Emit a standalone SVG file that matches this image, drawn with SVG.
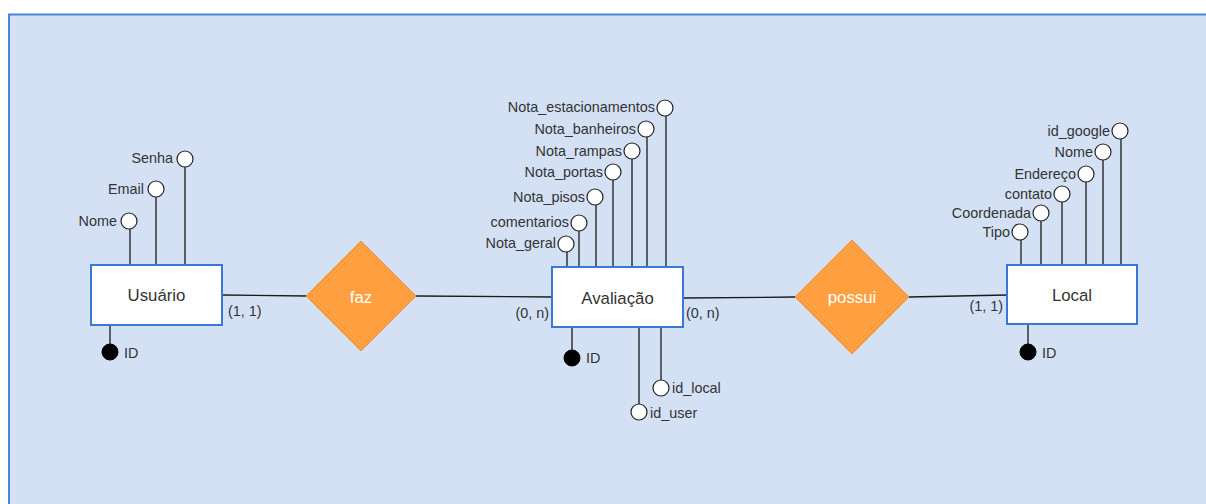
<svg xmlns="http://www.w3.org/2000/svg" width="1206" height="504" viewBox="0 0 1206 504">
<style>
.ent{fill:#fff;stroke:#3a78d8;stroke-width:2}
.rel{fill:#ff9f40;stroke:#f2922e;stroke-width:1}
.ln{stroke:#1a1a1a;stroke-width:1.3;fill:none}
.att{fill:#fff;stroke:#222;stroke-width:1.2}
.key{fill:#000;stroke:#000;stroke-width:1}
text{font-family:"Liberation Sans",Arial,sans-serif;fill:#333}
.lbl{font-size:14.4px;text-anchor:end;dominant-baseline:central}
.lbr{font-size:14.4px;text-anchor:start;dominant-baseline:central}
.en{font-size:16.8px;text-anchor:middle;dominant-baseline:central}
.rt{font-size:16.8px;text-anchor:middle;dominant-baseline:central;fill:#fff}
</style>
<rect x="9" y="14.5" width="1210" height="500" fill="#d4e1f5" stroke="#4a86d8" stroke-width="2"/>
<g id="connectors">
<line class="ln" x1="222" y1="295" x2="307" y2="296"/>
<line class="ln" x1="416" y1="296" x2="552" y2="297"/>
<line class="ln" x1="683" y1="298" x2="795" y2="297"/>
<line class="ln" x1="909" y1="297" x2="1007" y2="295"/>
<line class="ln" x1="130" y1="229" x2="130" y2="265"/>
<line class="ln" x1="156" y1="197" x2="156" y2="265"/>
<line class="ln" x1="185" y1="167" x2="185" y2="265"/>
<line class="ln" x1="110" y1="325" x2="110" y2="345"/>
<line class="ln" x1="666" y1="116" x2="666" y2="267"/>
<line class="ln" x1="647" y1="137" x2="647" y2="267"/>
<line class="ln" x1="632" y1="159" x2="632" y2="267"/>
<line class="ln" x1="613" y1="180" x2="613" y2="267"/>
<line class="ln" x1="596" y1="205" x2="596" y2="267"/>
<line class="ln" x1="579" y1="231" x2="579" y2="267"/>
<line class="ln" x1="567" y1="252" x2="567" y2="267"/>
<line class="ln" x1="572" y1="327" x2="572" y2="351"/>
<line class="ln" x1="661" y1="327" x2="661" y2="380"/>
<line class="ln" x1="639" y1="327" x2="639" y2="404"/>
<line class="ln" x1="1121" y1="139" x2="1121" y2="265"/>
<line class="ln" x1="1103" y1="160" x2="1103" y2="265"/>
<line class="ln" x1="1086" y1="182" x2="1086" y2="265"/>
<line class="ln" x1="1062" y1="202" x2="1062" y2="265"/>
<line class="ln" x1="1041" y1="221" x2="1041" y2="265"/>
<line class="ln" x1="1021" y1="240" x2="1021" y2="265"/>
<line class="ln" x1="1028" y1="324" x2="1028" y2="345"/>
<text class="lbr" x="228" y="311">(1, 1)</text>
<text class="lbl" x="549" y="313">(0, n)</text>
<text class="lbr" x="686" y="313">(0, n)</text>
<text class="lbl" x="1003" y="306">(1, 1)</text>
</g>
<g id="usuario">
<rect class="ent" x="91" y="265" width="131" height="60"/>
<text class="en" x="156.5" y="295">Usuário</text>
</g>
<g id="usuario-nome"><circle class="att" cx="129" cy="221" r="8"/><text class="lbl" x="117" y="221">Nome</text></g>
<g id="usuario-email"><circle class="att" cx="156" cy="189" r="8"/><text class="lbl" x="144" y="189">Email</text></g>
<g id="usuario-senha"><circle class="att" cx="185" cy="159" r="8"/><text class="lbl" x="173" y="158">Senha</text></g>
<g id="usuario-id"><circle class="key" cx="110" cy="352" r="8"/><text class="lbr" x="124" y="353">ID</text></g>
<g id="faz">
<polygon class="rel" points="361,241 416,296 361,351 306,296"/>
<text class="rt" x="361" y="297">faz</text>
</g>
<g id="avaliacao">
<rect class="ent" x="552" y="267" width="131" height="60"/>
<text class="en" x="617.5" y="298">Avaliação</text>
</g>
<g id="av-estac"><circle class="att" cx="665" cy="108" r="8"/><text class="lbl" x="655" y="107">Nota_estacionamentos</text></g>
<g id="av-banh"><circle class="att" cx="646" cy="129" r="8"/><text class="lbl" x="636" y="129">Nota_banheiros</text></g>
<g id="av-ramp"><circle class="att" cx="632" cy="151" r="8"/><text class="lbl" x="622" y="151">Nota_rampas</text></g>
<g id="av-port"><circle class="att" cx="613" cy="172" r="8"/><text class="lbl" x="603" y="172">Nota_portas</text></g>
<g id="av-pisos"><circle class="att" cx="595" cy="197" r="8"/><text class="lbl" x="585" y="197">Nota_pisos</text></g>
<g id="av-coment"><circle class="att" cx="579" cy="223" r="8"/><text class="lbl" x="569" y="222">comentarios</text></g>
<g id="av-geral"><circle class="att" cx="566" cy="244" r="8"/><text class="lbl" x="556" y="243">Nota_geral</text></g>
<g id="av-id"><circle class="key" cx="572" cy="358" r="8"/><text class="lbr" x="586" y="358">ID</text></g>
<g id="av-idlocal"><circle class="att" cx="661" cy="388" r="8"/><text class="lbr" x="672" y="388">id_local</text></g>
<g id="av-iduser"><circle class="att" cx="639" cy="412" r="8"/><text class="lbr" x="650" y="413">id_user</text></g>
<g id="possui">
<polygon class="rel" points="852,240 909,297 852,354 795,297"/>
<text class="rt" x="852" y="297">possui</text>
</g>
<g id="local">
<rect class="ent" x="1007" y="265" width="130" height="59"/>
<text class="en" x="1072" y="295">Local</text>
</g>
<g id="lo-google"><circle class="att" cx="1120" cy="131" r="8"/><text class="lbl" x="1110" y="131">id_google</text></g>
<g id="lo-nome"><circle class="att" cx="1103" cy="152" r="8"/><text class="lbl" x="1093" y="152">Nome</text></g>
<g id="lo-end"><circle class="att" cx="1086" cy="174" r="8"/><text class="lbl" x="1076" y="174">Endereço</text></g>
<g id="lo-contato"><circle class="att" cx="1062" cy="194" r="8"/><text class="lbl" x="1052" y="194">contato</text></g>
<g id="lo-coord"><circle class="att" cx="1041" cy="213" r="8"/><text class="lbl" x="1031" y="213">Coordenada</text></g>
<g id="lo-tipo"><circle class="att" cx="1020" cy="232" r="8"/><text class="lbl" x="1010" y="232">Tipo</text></g>
<g id="lo-id"><circle class="key" cx="1028" cy="352" r="8"/><text class="lbr" x="1042" y="353">ID</text></g>
</svg>
